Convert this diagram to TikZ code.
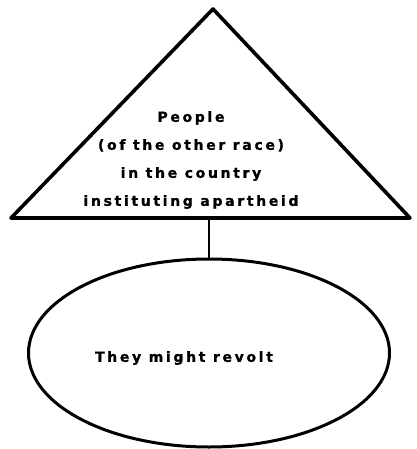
\documentclass[tikz,border=0pt]{standalone}
\usepackage{fontspec}
\setmainfont{Liberation Sans}
\usetikzlibrary{shapes.geometric}
\newfontfamily\dotfont[LetterSpace=19, FakeBold=1.2]{DejaVu Sans Bold}
\tikzset{
  outline/.style={draw=black, line width=3.6pt, line join=round},
  txt/.style={font=\dotfont\fontsize{14pt}{28pt}\selectfont, text=black, inner sep=0pt},
  link/.style={draw=black, line width=2.6pt}
}
\begin{document}
\begin{tikzpicture}[x=1pt,y=-1pt]
\useasboundingbox (0,0) rectangle (416,449);
\coordinate (apex) at (213,9);
\coordinate (bl) at (11,218);
\coordinate (br) at (410,218);
\coordinate (basemid) at (209,218);
\draw[outline] (apex) -- (bl) -- (br) -- cycle;
\node[txt, align=center] (people) at (191,160) {People\\(of the other race)\\in the country\\instituting apartheid};
\node[ellipse, draw=black, line width=3pt, minimum width=361pt, minimum height=188pt, inner sep=0pt] (revolt) at (209,353) {};
\node[txt] (revolttxt) at (184,358) {They might revolt};
\draw[link] (basemid) -- (revolt.north);
\end{tikzpicture}
\end{document}
